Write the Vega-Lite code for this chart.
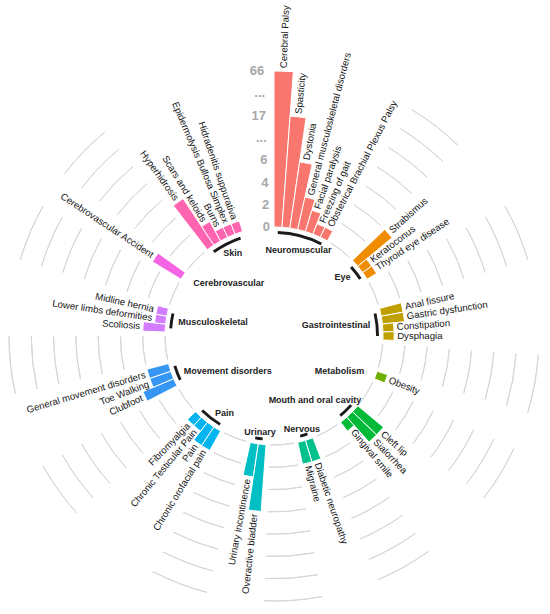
{
  "$schema": "https://vega.github.io/schema/vega-lite/v6.json",
  "width": 548,
  "height": 556,
  "autosize": "none",
  "padding": {"left": 0, "top": 58, "right": 0, "bottom": 0},
  "background": "white",
  "config": {
    "view": {"stroke": null},
    "text": {"font": "Liberation Sans"}
  },
  "datasets": {
    "bars": [
      {"id": 1, "group": "Neuromuscular", "label": "Cerebral Palsy", "value": 66},
      {"id": 2, "group": "Neuromuscular", "label": "Spasticity", "value": 17},
      {"id": 3, "group": "Neuromuscular", "label": "Dystonia", "value": 6},
      {"id": 4, "group": "Neuromuscular", "label": "General musculoskeletal disorders", "value": 3},
      {"id": 5, "group": "Neuromuscular", "label": "Facial paralysis", "value": 2},
      {"id": 6, "group": "Neuromuscular", "label": "Freezing of gait", "value": 1},
      {"id": 7, "group": "Neuromuscular", "label": "Obstetrical Brachial Plexus Palsy", "value": 1},
      {"id": 12, "group": "Eye", "label": "Strabismus", "value": 4},
      {"id": 13, "group": "Eye", "label": "Keratoconus", "value": 1},
      {"id": 14, "group": "Eye", "label": "Thyroid eye disease", "value": 1},
      {"id": 19, "group": "Gastrointestinal", "label": "Anal fissure", "value": 2},
      {"id": 20, "group": "Gastrointestinal", "label": "Gastric dysfunction", "value": 2},
      {"id": 21, "group": "Gastrointestinal", "label": "Constipation", "value": 1},
      {"id": 22, "group": "Gastrointestinal", "label": "Dysphagia", "value": 1},
      {"id": 27, "group": "Metabolism", "label": "Obesity", "value": 1},
      {"id": 32, "group": "Mouth and oral cavity", "label": "Cleft lip", "value": 3},
      {"id": 33, "group": "Mouth and oral cavity", "label": "Sialorrhea", "value": 3},
      {"id": 34, "group": "Mouth and oral cavity", "label": "Gingival smile", "value": 1},
      {"id": 39, "group": "Nervous", "label": "Diabetic neuropathy", "value": 2},
      {"id": 40, "group": "Nervous", "label": "Migraine", "value": 2},
      {"id": 45, "group": "Urinary", "label": "Overactive bladder", "value": 6},
      {"id": 46, "group": "Urinary", "label": "Urinary incontinence", "value": 3},
      {"id": 51, "group": "Pain", "label": "Chronic orofacial pain", "value": 2},
      {"id": 52, "group": "Pain", "label": "Pain", "value": 2},
      {"id": 53, "group": "Pain", "label": "Chronic Testicular Pain", "value": 1},
      {"id": 54, "group": "Pain", "label": "Fibromyalgia", "value": 1},
      {"id": 59, "group": "Movement disorders", "label": "Clubfoot", "value": 3},
      {"id": 60, "group": "Movement disorders", "label": "Toe Walking", "value": 2},
      {"id": 61, "group": "Movement disorders", "label": "General movement disorders", "value": 2},
      {"id": 66, "group": "Musculoskeletal", "label": "Scoliosis", "value": 2},
      {"id": 67, "group": "Musculoskeletal", "label": "Lower limbs deformities", "value": 1},
      {"id": 68, "group": "Musculoskeletal", "label": "Midline hernia", "value": 1},
      {"id": 73, "group": "Cerebrovascular", "label": "Cerebrovascular Accident", "value": 3},
      {"id": 78, "group": "Skin", "label": "Hyperhidrosis", "value": 5},
      {"id": 79, "group": "Skin", "label": "Scars and keloids", "value": 2},
      {"id": 80, "group": "Skin", "label": "Burns", "value": 1},
      {"id": 81, "group": "Skin", "label": "Epidermolysis Bullosa Simplex", "value": 1},
      {"id": 82, "group": "Skin", "label": "Hidradenitis suppurativa", "value": 1}
    ],
    "ticks": [
      {"label": "0", "value": 0},
      {"label": "2", "value": 2},
      {"label": "4", "value": 4},
      {"label": "6", "value": 6},
      {"label": "...", "value": 11.5},
      {"label": "17", "value": 17},
      {"label": "...", "value": 41.5},
      {"label": "66", "value": 66}
    ],
    "gaps": [
      {"from": 8, "to": 11, "levels": [0, 2, 4, 6, 11.5, 17, 41.5, 66]},
      {"from": 15, "to": 18, "levels": [0, 2, 4, 6, 11.5, 17, 41.5, 66]},
      {"from": 23, "to": 26, "levels": [0, 2, 4, 6, 11.5, 17, 41.5, 66]},
      {"from": 28, "to": 31, "levels": [0, 2, 4, 6, 11.5, 17, 41.5, 66]},
      {"from": 35, "to": 38, "levels": [0, 2, 4, 6, 11.5, 17, 41.5, 66]},
      {"from": 41, "to": 44, "levels": [0, 2, 4, 6, 11.5, 17, 41.5, 66]},
      {"from": 47, "to": 50, "levels": [0, 2, 4, 6, 11.5, 17, 41.5, 66]},
      {"from": 55, "to": 58, "levels": [0, 2, 4, 6, 11.5, 17, 41.5, 66]},
      {"from": 62, "to": 65, "levels": [0, 2, 4, 6, 11.5, 17, 41.5, 66]},
      {"from": 69, "to": 72, "levels": [0, 2, 4, 6, 11.5, 17, 41.5, 66]},
      {"from": 74, "to": 77, "levels": [0, 2, 4, 6, 11.5, 17, 41.5, 66]}
    ]
  },
  "layer": [
    {
      "data": {"name": "gaps"},
      "transform": [{"flatten": ["levels"], "as": ["level"]}],
      "mark": {"type": "arc", "filled": false, "stroke": "#d6d6d6", "strokeWidth": 1},
      "encoding": {
        "theta": {"field": "from", "type": "quantitative", "stack": null, "scale": {"domain": [0.5, 86.5], "zero": false, "nice": false}},
        "theta2": {"field": "to"},
        "radius": {"field": "level", "type": "quantitative", "scale": {"type": "linear", "domain": [0, 6, 17, 66], "range": [109, 175.9, 220.5, 265], "zero": false, "nice": false}},
        "radius2": {"field": "level"}
      }
    },
    {
      "data": {"name": "bars"},
      "mark": {"type": "arc", "thetaOffset": -0.0365, "theta2Offset": 0.0365, "stroke": "white", "strokeWidth": 1},
      "encoding": {
        "theta": {"field": "id", "type": "quantitative", "stack": null, "scale": {"domain": [0.5, 86.5], "zero": false, "nice": false}},
        "theta2": {"field": "id"},
        "radius": {"field": "value", "type": "quantitative", "scale": {"type": "linear", "domain": [0, 6, 17, 66], "range": [109, 175.9, 220.5, 265], "zero": false, "nice": false}},
        "radius2": {"datum": 0},
        "color": {
          "field": "group",
          "type": "nominal",
          "legend": null,
          "scale": {
            "domain": ["Neuromuscular", "Eye", "Gastrointestinal", "Metabolism", "Mouth and oral cavity", "Nervous", "Urinary", "Pain", "Movement disorders", "Musculoskeletal", "Cerebrovascular", "Skin"],
            "range": ["#F8766D", "#F08C00", "#BFA000", "#6DB000", "#00BA38", "#00C08B", "#00BFC4", "#00B4F0", "#3597F3", "#D47CFF", "#F564E3", "#FF64B0"]
          }
        }
      }
    },
    {
      "data": {"name": "bars"},
      "transform": [
        {"aggregate": [{"op": "min", "field": "id", "as": "first"}, {"op": "max", "field": "id", "as": "last"}], "groupby": ["group"]}
      ],
      "mark": {"type": "arc", "color": "#1a1a1a"},
      "encoding": {
        "theta": {"field": "first", "type": "quantitative", "stack": null, "scale": {"domain": [0.5, 86.5], "zero": false, "nice": false}},
        "theta2": {"field": "last"},
        "radius": {"datum": -0.36, "type": "quantitative", "scale": {"type": "linear", "domain": [0, 6, 17, 66], "range": [109, 175.9, 220.5, 265], "zero": false, "nice": false}},
        "radius2": {"datum": -0.62}
      }
    },
    {
      "data": {"name": "bars"},
      "transform": [{"filter": "datum.id < 44"}],
      "mark": {"type": "text", "align": "left", "baseline": "middle", "radiusOffset": 3, "fontSize": 9.6, "color": "#141414"},
      "encoding": {
        "theta": {"field": "id", "type": "quantitative", "stack": null, "scale": {"domain": [0.5, 86.5], "zero": false, "nice": false}},
        "radius": {"field": "value", "type": "quantitative", "scale": {"type": "linear", "domain": [0, 6, 17, 66], "range": [109, 175.9, 220.5, 265], "zero": false, "nice": false}},
        "angle": {"field": "id", "type": "quantitative", "legend": null, "scale": {"domain": [0.5, 86.5], "range": [-90, 270], "zero": false, "nice": false}},
        "text": {"field": "label"}
      }
    },
    {
      "data": {"name": "bars"},
      "transform": [{"filter": "datum.id >= 44"}],
      "mark": {"type": "text", "align": "right", "baseline": "middle", "radiusOffset": 3, "fontSize": 9.6, "color": "#141414"},
      "encoding": {
        "theta": {"field": "id", "type": "quantitative", "stack": null, "scale": {"domain": [0.5, 86.5], "zero": false, "nice": false}},
        "radius": {"field": "value", "type": "quantitative", "scale": {"type": "linear", "domain": [0, 6, 17, 66], "range": [109, 175.9, 220.5, 265], "zero": false, "nice": false}},
        "angle": {"field": "id", "type": "quantitative", "legend": null, "scale": {"domain": [0.5, 86.5], "range": [90, 450], "zero": false, "nice": false}},
        "text": {"field": "label"}
      }
    },
    {
      "data": {"name": "bars"},
      "transform": [
        {"aggregate": [{"op": "mean", "field": "id", "as": "mid"}], "groupby": ["group"]},
        {"filter": {"field": "group", "oneOf": ["Eye", "Gastrointestinal", "Metabolism"]}}
      ],
      "mark": {"type": "text", "align": "right", "baseline": "middle", "fontSize": 9, "fontWeight": "bold", "color": "#222222"},
      "encoding": {
        "theta": {"field": "mid", "type": "quantitative", "stack": null, "scale": {"domain": [0.5, 86.5], "zero": false, "nice": false}},
        "radius": {"datum": -1.1, "type": "quantitative", "scale": {"type": "linear", "domain": [0, 6, 17, 66], "range": [109, 175.9, 220.5, 265], "zero": false, "nice": false}},
        "text": {"field": "group"}
      }
    },
    {
      "data": {"name": "bars"},
      "transform": [
        {"aggregate": [{"op": "mean", "field": "id", "as": "mid"}], "groupby": ["group"]},
        {"filter": {"field": "group", "oneOf": ["Mouth and oral cavity"]}}
      ],
      "mark": {"type": "text", "align": "right", "baseline": "middle", "dx": 20, "dy": -6, "fontSize": 9, "fontWeight": "bold", "color": "#222222"},
      "encoding": {
        "theta": {"field": "mid", "type": "quantitative", "stack": null, "scale": {"domain": [0.5, 86.5], "zero": false, "nice": false}},
        "radius": {"datum": -1.1, "type": "quantitative", "scale": {"type": "linear", "domain": [0, 6, 17, 66], "range": [109, 175.9, 220.5, 265], "zero": false, "nice": false}},
        "text": {"field": "group"}
      }
    },
    {
      "data": {"name": "bars"},
      "transform": [
        {"aggregate": [{"op": "mean", "field": "id", "as": "mid"}], "groupby": ["group"]},
        {"filter": {"field": "group", "oneOf": ["Pain", "Movement disorders", "Musculoskeletal", "Cerebrovascular"]}}
      ],
      "mark": {"type": "text", "align": "left", "baseline": "middle", "fontSize": 9, "fontWeight": "bold", "color": "#222222"},
      "encoding": {
        "theta": {"field": "mid", "type": "quantitative", "stack": null, "scale": {"domain": [0.5, 86.5], "zero": false, "nice": false}},
        "radius": {"datum": -1.1, "type": "quantitative", "scale": {"type": "linear", "domain": [0, 6, 17, 66], "range": [109, 175.9, 220.5, 265], "zero": false, "nice": false}},
        "text": {"field": "group"}
      }
    },
    {
      "data": {"name": "bars"},
      "transform": [
        {"aggregate": [{"op": "mean", "field": "id", "as": "mid"}], "groupby": ["group"]},
        {"filter": {"field": "group", "oneOf": ["Nervous", "Urinary"]}}
      ],
      "mark": {"type": "text", "align": "center", "baseline": "middle", "fontSize": 9, "fontWeight": "bold", "color": "#222222"},
      "encoding": {
        "theta": {"field": "mid", "type": "quantitative", "stack": null, "scale": {"domain": [0.5, 86.5], "zero": false, "nice": false}},
        "radius": {"datum": -1.1, "type": "quantitative", "scale": {"type": "linear", "domain": [0, 6, 17, 66], "range": [109, 175.9, 220.5, 265], "zero": false, "nice": false}},
        "text": {"field": "group"}
      }
    },
    {
      "data": {"name": "bars"},
      "transform": [
        {"aggregate": [{"op": "mean", "field": "id", "as": "mid"}], "groupby": ["group"]},
        {"filter": {"field": "group", "oneOf": ["Skin"]}}
      ],
      "mark": {"type": "text", "align": "center", "baseline": "middle", "dx": 3, "dy": 3, "fontSize": 9, "fontWeight": "bold", "color": "#222222"},
      "encoding": {
        "theta": {"field": "mid", "type": "quantitative", "stack": null, "scale": {"domain": [0.5, 86.5], "zero": false, "nice": false}},
        "radius": {"datum": -1.1, "type": "quantitative", "scale": {"type": "linear", "domain": [0, 6, 17, 66], "range": [109, 175.9, 220.5, 265], "zero": false, "nice": false}},
        "text": {"field": "group"}
      }
    },
    {
      "data": {"name": "bars"},
      "transform": [
        {"aggregate": [{"op": "mean", "field": "id", "as": "mid"}], "groupby": ["group"]},
        {"filter": {"field": "group", "oneOf": ["Neuromuscular"]}}
      ],
      "mark": {"type": "text", "align": "center", "baseline": "middle", "dy": 8, "fontSize": 9, "fontWeight": "bold", "color": "#222222"},
      "encoding": {
        "theta": {"field": "mid", "type": "quantitative", "stack": null, "scale": {"domain": [0.5, 86.5], "zero": false, "nice": false}},
        "radius": {"datum": -1.1, "type": "quantitative", "scale": {"type": "linear", "domain": [0, 6, 17, 66], "range": [109, 175.9, 220.5, 265], "zero": false, "nice": false}},
        "text": {"field": "group"}
      }
    },
    {
      "data": {"name": "ticks"},
      "mark": {"type": "text", "align": "right", "baseline": "middle", "fontSize": 13, "fontWeight": "bold", "color": "#a8a8a8"},
      "encoding": {
        "theta": {"datum": 86, "type": "quantitative", "scale": {"domain": [0.5, 86.5], "zero": false, "nice": false}},
        "radius": {"field": "value", "type": "quantitative", "scale": {"type": "linear", "domain": [0, 6, 17, 66], "range": [109, 175.9, 220.5, 265], "zero": false, "nice": false}},
        "text": {"field": "label"}
      }
    }
  ],
  "resolve": {"scale": {"angle": "independent"}}
}
